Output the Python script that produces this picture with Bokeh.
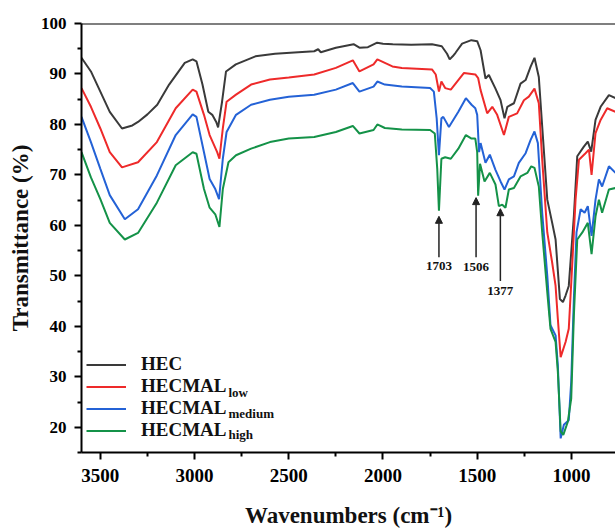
from bokeh.plotting import figure
from bokeh.models import (Range1d, FixedTicker, Span, Arrow, NormalHead, Legend,
                          LegendItem, Label)
from bokeh.embed import file_html
from bokeh.resources import INLINE
from bokeh.core.properties import value

# ---------------- data ----------------
wn_hec = [3600, 3550, 3500, 3450, 3385, 3330, 3300, 3250, 3198, 3135, 3052, 3010, 2990, 2958, 2927,
          2906, 2885, 2875, 2854, 2833, 2781, 2677, 2573, 2450, 2365, 2344, 2330, 2250, 2156, 2125,
          2080, 2031, 2000, 1948, 1850, 1740, 1688, 1660, 1646, 1630, 1615, 1580, 1531, 1500, 1482,
          1456, 1438, 1403, 1376, 1355, 1340, 1305, 1270, 1243, 1217, 1196, 1173, 1155, 1128, 1102,
          1084, 1061, 1045, 1031, 1014, 987, 969, 934, 913, 895, 872, 845, 801, 766]
t_hec = [93.2, 90.5, 86.5, 82.5, 79.2, 79.8, 80.5, 82.0, 83.9, 87.9, 92.2, 92.9, 92.5, 87.9, 82.5,
         81.9, 80.5, 79.4, 84.5, 90.5, 91.9, 93.5, 94.0, 94.3, 94.5, 94.9, 94.3, 95.2, 95.9, 95.2,
         95.3, 96.2, 96.0, 95.9, 95.8, 95.9, 95.5, 94.0, 92.9, 93.5, 94.2, 96.0, 96.7, 96.5, 94.7,
         89.1, 89.8, 87.1, 84.8, 81.2, 83.5, 84.2, 88.1, 88.8, 91.4, 93.2, 89.4, 79.6, 65.1, 60.5,
         57.2, 45.4, 44.8, 46.1, 48.0, 61.8, 73.7, 75.6, 76.6, 74.6, 80.9, 83.5, 85.8, 85.2]

wn_low = [3600, 3550, 3500, 3450, 3385, 3300, 3200, 3100, 3010, 2990, 2950, 2920, 2880, 2868, 2850,
          2830, 2780, 2700, 2600, 2500, 2365, 2250, 2160, 2125, 2050, 2030, 1990, 1950, 1900, 1740,
          1720, 1703, 1690, 1670, 1640, 1570, 1510, 1495, 1482, 1447, 1420, 1394, 1358, 1332, 1288,
          1252, 1226, 1196, 1173, 1155, 1128, 1102, 1084, 1072, 1057, 1031, 1014, 996, 978, 960,
          925, 907, 893, 872, 845, 810, 766]
t_low = [87.2, 83.5, 79.2, 74.5, 71.5, 72.5, 76.5, 83.2, 86.9, 86.5, 81.9, 77.9, 74.5, 73.2, 79.2,
         84.5, 85.9, 87.9, 88.9, 89.3, 89.9, 91.2, 92.7, 90.5, 91.9, 92.9, 92.2, 91.5, 91.2, 90.9,
         89.9, 86.5, 88.5, 87.2, 86.9, 90.2, 89.9, 89.2, 86.8, 82.2, 83.5, 81.9, 77.9, 81.5, 82.2,
         84.8, 85.5, 87.1, 84.2, 73.0, 58.6, 52.6, 48.0, 41.5, 33.9, 36.9, 39.5, 52.0, 65.1, 73.0,
         74.3, 75.0, 70.0, 78.3, 80.9, 83.2, 82.5]

wn_med = [3600, 3550, 3500, 3450, 3370, 3300, 3200, 3100, 3010, 2990, 2950, 2920, 2890, 2870, 2850,
          2830, 2780, 2700, 2600, 2500, 2365, 2250, 2160, 2125, 2050, 2030, 1990, 1900, 1750, 1730,
          1715, 1703, 1690, 1680, 1650, 1600, 1560, 1530, 1510, 1500, 1490, 1482, 1456, 1433, 1403,
          1376, 1355, 1332, 1305, 1279, 1243, 1217, 1196, 1178, 1155, 1128, 1111, 1084, 1072, 1057,
          1040, 1014, 1001, 987, 973, 951, 930, 913, 893, 872, 854, 837, 801, 766]
t_med = [81.5, 76.5, 71.2, 66.0, 61.2, 63.2, 69.9, 77.9, 82.0, 81.5, 74.5, 69.2, 67.2, 65.2, 73.2,
         78.5, 81.9, 83.9, 84.9, 85.5, 85.9, 86.9, 88.2, 86.5, 87.5, 88.5, 87.9, 87.5, 87.2, 86.5,
         81.2, 73.9, 81.2, 81.5, 79.5, 82.5, 85.2, 83.9, 83.2, 81.9, 74.5, 76.3, 72.4, 74.0, 71.0,
         68.7, 67.1, 69.1, 69.7, 72.4, 74.3, 76.9, 78.6, 76.3, 62.5, 50.0, 40.2, 38.2, 32.3, 17.8,
         20.5, 21.4, 29.0, 45.4, 58.6, 63.2, 62.5, 63.8, 57.9, 65.1, 69.1, 67.7, 71.7, 70.4]

wn_high = [3600, 3550, 3500, 3450, 3370, 3300, 3200, 3100, 3010, 2990, 2950, 2920, 2890, 2868, 2850,
           2820, 2780, 2700, 2600, 2500, 2365, 2250, 2160, 2125, 2050, 2030, 1990, 1900, 1750, 1725,
           1712, 1703, 1690, 1670, 1640, 1600, 1560, 1530, 1510, 1500, 1495, 1485, 1461, 1433, 1403,
           1385, 1367, 1350, 1332, 1305, 1270, 1234, 1213, 1196, 1173, 1155, 1128, 1111, 1084, 1072,
           1057, 1043, 1019, 1001, 987, 969, 942, 913, 893, 872, 854, 837, 801, 766]
t_high = [74.5, 69.5, 65.2, 60.5, 57.2, 58.5, 64.5, 71.9, 74.5, 74.2, 67.2, 63.5, 62.2, 59.7, 67.2,
          72.5, 73.9, 75.2, 76.5, 77.2, 77.5, 78.5, 79.7, 78.2, 78.9, 80.0, 79.3, 79.0, 78.9, 78.2,
          71.2, 62.9, 73.2, 73.5, 73.2, 75.2, 77.9, 77.2, 77.2, 74.5, 65.9, 72.2, 68.7, 70.4, 68.1,
          63.8, 64.1, 63.5, 67.1, 67.4, 69.7, 70.4, 71.7, 71.4, 67.7, 58.6, 46.7, 39.5, 36.9, 31.0,
          19.2, 18.5, 21.1, 25.7, 42.1, 57.2, 58.6, 60.5, 54.3, 61.8, 65.1, 62.5, 67.1, 67.4]

series_names = ["HEC", "HECMAL", "HECMAL", "HECMAL"]
series_subs = ["", "low", "medium", "high"]
series_colors = ["#3a3a3a", "#ee2a2a", "#2462d6", "#149248"]

peak_labels = ["1703", "1506", "1377"]
peak_wn = [1703, 1506, 1377]
arrow_tip = [61.8, 65.5, 63.3]
arrow_tail = [53.7, 53.7, 49.0]
label_y = [51.9, 51.7, 47.0]

x_major = [3500, 3000, 2500, 2000, 1500, 1000]
x_minor = [3250, 2750, 2250, 1750, 1250]
y_major = [20, 30, 40, 50, 60, 70, 80, 90, 100]
y_minor = [15, 25, 35, 45, 55, 65, 75, 85, 95]

# ---------------- layout ----------------
FONT = "Liberation Serif"
W, H = 615, 530
B_LEFT, B_RIGHT, B_TOP, B_BOTTOM = 81, 0, 23, 77
X0, X1, Y0, Y1 = 3600, 766, 15, 100
FW, FH = W - B_LEFT - B_RIGHT, H - B_TOP - B_BOTTOM

def dx(px):  # frame pixel (from frame left) -> data x
    return X0 - px * (X0 - X1) / FW

def dy(py):  # frame pixel (from frame top) -> data y
    return Y1 - py * (Y1 - Y0) / FH

p = figure(width=W, height=H, output_backend="svg", toolbar_location=None,
           x_range=Range1d(X0, X1), y_range=Range1d(Y0, Y1),
           min_border_left=B_LEFT, min_border_right=B_RIGHT,
           min_border_top=B_TOP, min_border_bottom=B_BOTTOM)
p.grid.visible = False
p.outline_line_color = None
p.background_fill_color = "white"
p.border_fill_color = "white"

renderers = []
for wn, t, c in zip([wn_hec, wn_low, wn_med, wn_high], [t_hec, t_low, t_med, t_high], series_colors):
    r = p.line(wn, t, line_color=c, line_width=2)
    renderers.append(r)

# axes
for ax in (p.xaxis[0], p.yaxis[0]):
    ax.axis_line_width = 2
    ax.axis_line_color = "black"
    ax.major_tick_line_width = 2
    ax.minor_tick_line_width = 2
    ax.major_tick_line_color = "black"
    ax.minor_tick_line_color = "black"
    ax.major_tick_out = 7
    ax.major_tick_in = 0
    ax.minor_tick_out = 4
    ax.minor_tick_in = 0
    ax.major_label_text_font = FONT
    ax.major_label_text_font_style = "bold"
    ax.major_label_text_color = "black"
    ax.axis_label_text_font = FONT
    ax.axis_label_text_font_style = "bold"
    ax.axis_label_text_font_size = "23px"
    ax.axis_label_text_color = "#111111"

p.xaxis[0].major_label_text_font_size = "19px"
p.yaxis[0].major_label_text_font_size = "17px"
p.xaxis[0].ticker = FixedTicker(ticks=x_major, minor_ticks=x_minor)
p.yaxis[0].ticker = FixedTicker(ticks=y_major, minor_ticks=y_minor)
p.xaxis[0].major_label_standoff = 9
p.yaxis[0].major_label_standoff = 8
p.xaxis[0].axis_label = "Wavenumbers (cm\u207b\u00b9)"
p.yaxis[0].axis_label = "Transmittance (%)"
p.xaxis[0].axis_label_standoff = 18
p.yaxis[0].axis_label_standoff = 5

p.add_layout(Span(location=Y1, dimension="width", line_color="black", line_width=2))

# peak arrows
for w, a0, a1 in zip(peak_wn, arrow_tail, arrow_tip):
    p.add_layout(Arrow(end=NormalHead(size=7, fill_color="#222222", line_color="#222222"),
                       x_start=w, y_start=a0, x_end=w, y_end=a1,
                       line_color="#222222", line_width=1.5))
p.text(x=peak_wn, y=label_y, text=peak_labels, text_font=value(FONT), text_font_size="13px",
       text_font_style="bold", text_color="#111111", text_align="center", text_baseline="middle")

# legend
items = [LegendItem(label=n, renderers=[r]) for n, r in zip(series_names, renderers)]
leg = Legend(items=items, location=(5, 11), padding=0, margin=0, spacing=0,
             glyph_width=40, glyph_height=21, label_height=21, label_standoff=15,
             label_text_font=FONT, label_text_font_style="bold", label_text_font_size="19px",
             label_text_color="#111111", border_line_color=None, background_fill_alpha=0)
p.add_layout(leg)

# subscripts for legend entries (legend rows at frame px from top)
row_py = [338.5, 359.7, 381.3, 402.0]
for sub, rp in zip(series_subs, row_py):
    if sub:
        p.add_layout(Label(x=dx(147), y=dy(rp + 10), text=sub, text_font=FONT,
                           text_font_size="13px", text_font_style="bold",
                           text_color="#111111", text_baseline="alphabetic"))

open("out.html", "w").write(file_html(p, INLINE))
